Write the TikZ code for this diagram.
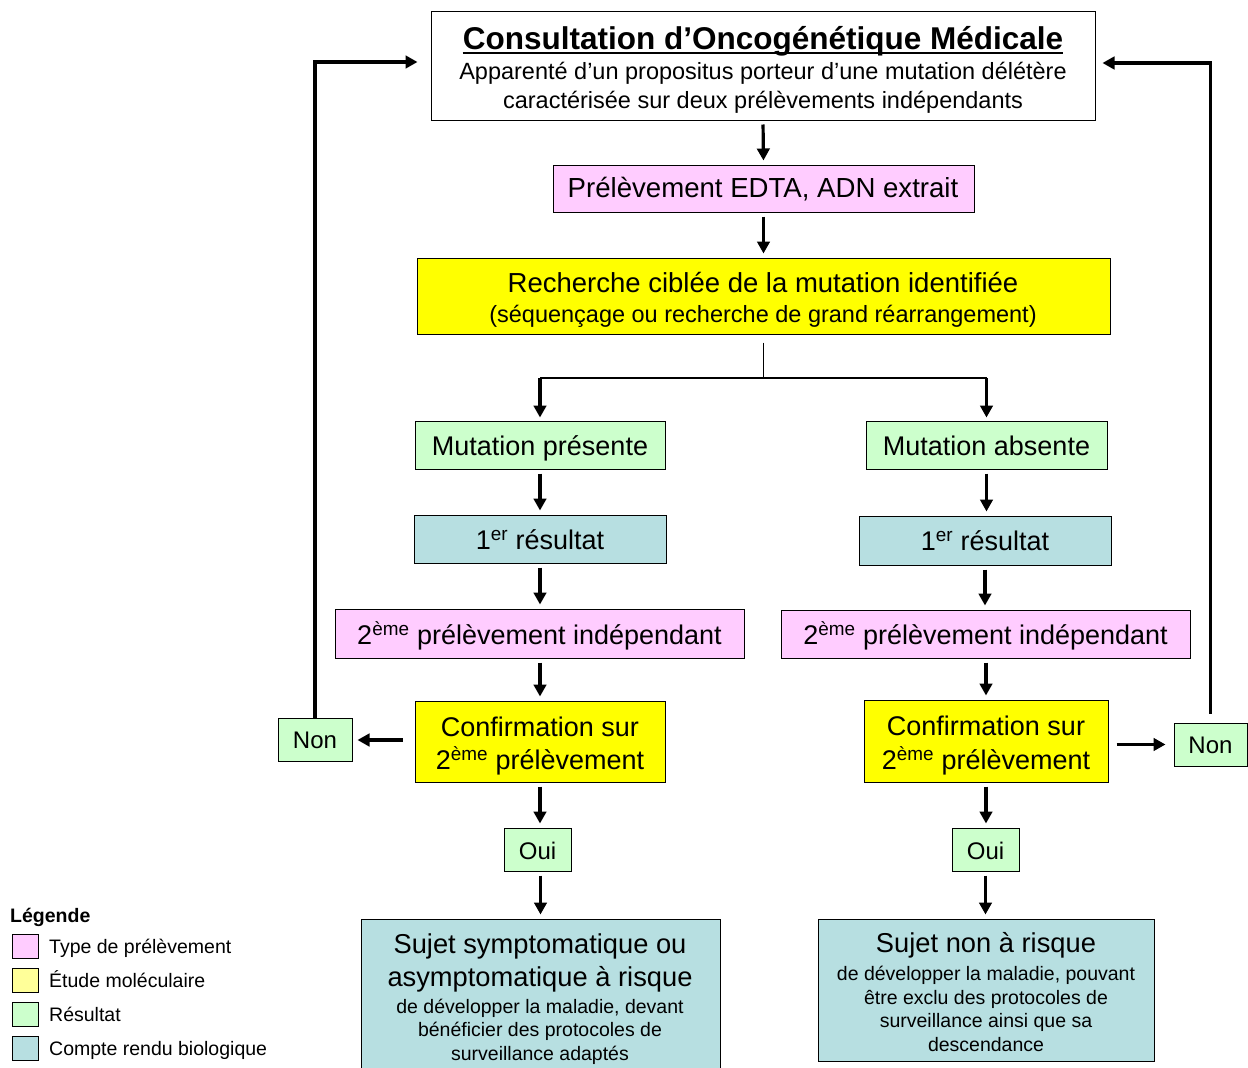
\documentclass[tikz,border=0pt]{standalone}
\usepackage{fontspec}
\setmainfont{Liberation Sans}
\usetikzlibrary{arrows.meta}
\definecolor{pinkc}{HTML}{FFCCFF}
\definecolor{yellowc}{HTML}{FFFF00}
\definecolor{lyellowc}{HTML}{FFFF99}
\definecolor{greenc}{HTML}{CCFFCC}
\definecolor{bluec}{HTML}{B7DFE1}
\newcommand{\fs}[1]{\fontsize{#1}{#1}\selectfont}
\begin{document}
\begin{tikzpicture}[x=1pt,y=-1pt,
  box/.style={draw=black, line width=1pt, inner sep=0pt},
  txt/.style={inner sep=0pt, anchor=base},
  ltxt/.style={inner sep=0pt, anchor=base west},
  arr/.style={line width=3.2pt, -{Triangle[length=12pt,width=12.5pt]}},
  thinl/.style={line width=1.5pt},
  midl/.style={line width=2.2pt}
]
\useasboundingbox (0,0) rectangle (1248,1068);
\fill[white] (0,0) rectangle (1248,1068);

% boxes
\node[box, fill=white, minimum width=664pt, minimum height=109pt] (top) at (763,65.5) {};
\node[box, fill=pinkc, minimum width=421pt, minimum height=47pt] (edta) at (763.5,188.5) {};
\node[box, fill=yellowc, minimum width=693pt, minimum height=76pt] (rech) at (763.5,296) {};
\node[box, fill=greenc, minimum width=250pt, minimum height=48pt] (mp) at (540,445) {};
\node[box, fill=greenc, minimum width=241pt, minimum height=48pt] (ma) at (986.5,445) {};
\node[box, fill=bluec, minimum width=252pt, minimum height=48pt] (r1l) at (540,539) {};
\node[box, fill=bluec, minimum width=252pt, minimum height=49pt] (r1r) at (985,540.5) {};
\node[box, fill=pinkc, minimum width=409pt, minimum height=49pt] (p2l) at (539.5,633.5) {};
\node[box, fill=pinkc, minimum width=409pt, minimum height=48pt] (p2r) at (985.5,634) {};
\node[box, fill=yellowc, minimum width=250pt, minimum height=81pt] (cl) at (540,741.5) {};
\node[box, fill=yellowc, minimum width=244pt, minimum height=82pt] (cr) at (986,741) {};
\node[box, fill=greenc, minimum width=74pt, minimum height=43pt] (nl) at (315,740) {};
\node[box, fill=greenc, minimum width=73pt, minimum height=43pt] (nr) at (1210.5,744.5) {};
\node[box, fill=greenc, minimum width=67pt, minimum height=43pt] (ol) at (537.5,849.5) {};
\node[box, fill=greenc, minimum width=67pt, minimum height=43pt] (or) at (985.5,849.5) {};
\node[box, fill=bluec, minimum width=359pt, minimum height=155pt] (bl) at (540.5,996.5) {};
\node[box, fill=bluec, minimum width=336pt, minimum height=142pt] (br) at (986,990) {};

% texts
\node[txt] (t1) at (763,49) {\fs{31.5}\bfseries Consultation d’Oncogénétique Médicale};
\draw[line width=1.8pt] ([yshift=-4pt]t1.base west) -- ([yshift=-4pt]t1.base east);
\node[txt] (t2) at (763,79.4) {\fs{23.5}Apparenté d’un propositus porteur d’une mutation délétère};
\node[txt] (t3) at (763,108.4) {\fs{23.5}caractérisée sur deux prélèvements indépendants};
\node[txt] (t4) at (763,197.7) {\fs{27.6}Prélèvement EDTA, ADN extrait};
\node[txt] (t5) at (763,292.7) {\fs{27.5}Recherche ciblée de la mutation identifiée};
\node[txt] (t6) at (763,322.4) {\fs{23.5}(séquençage ou recherche de grand réarrangement)};
\node[txt] (t7) at (540,455.7) {\fs{27}Mutation présente};
\node[txt] (t8) at (986.5,455.7) {\fs{27}Mutation absente};
\node[txt] (t9) at (540,549.7) {\fs{27}1\textsuperscript{er} résultat};
\node[txt] (t10) at (985,550.7) {\fs{27}1\textsuperscript{er} résultat};
\node[txt] (t11) at (539.5,644.7) {\fs{27}2\textsuperscript{ème} prélèvement indépendant};
\node[txt] (t12) at (985.5,644.7) {\fs{27}2\textsuperscript{ème} prélèvement indépendant};
\node[txt] (t13) at (540,736.7) {\fs{27}Confirmation sur};
\node[txt] (t14) at (540,769.7) {\fs{27}2\textsuperscript{ème} prélèvement};
\node[txt] (t15) at (986,735.7) {\fs{27}Confirmation sur};
\node[txt] (t16) at (986,769.7) {\fs{27}2\textsuperscript{ème} prélèvement};
\node[txt] (t17) at (315,748.6) {\fs{24}Non};
\node[txt] (t18) at (1210.5,753.6) {\fs{24}Non};
\node[txt] (t19) at (537.5,859.6) {\fs{24}Oui};
\node[txt] (t20) at (985.5,859.6) {\fs{24}Oui};
\node[txt] (t21) at (540,953.7) {\fs{27.3}Sujet symptomatique ou};
\node[txt] (t22) at (540,986.7) {\fs{27.3}asymptomatique à risque};
\node[txt] (t23) at (540,1013) {\fs{19.5}de développer la maladie, devant};
\node[txt] (t24) at (540,1036) {\fs{19.5}bénéficier des protocoles de};
\node[txt] (t25) at (540,1060) {\fs{19.5}surveillance adaptés};
\node[txt] (t26) at (986,952.7) {\fs{27.3}Sujet non à risque};
\node[txt] (t27) at (986,980) {\fs{19.5}de développer la maladie, pouvant};
\node[txt] (t28) at (986,1004) {\fs{19.5}être exclu des protocoles de};
\node[txt] (t29) at (986,1027) {\fs{19.5}surveillance ainsi que sa};
\node[txt] (t30) at (986,1051) {\fs{19.5}descendance};

% legend
\node[ltxt] (lg) at (10,922) {\fs{19.5}\bfseries Légende};
\node[box, fill=pinkc, minimum width=26pt, minimum height=24pt] (lg1) at (25,946) {};
\node[box, fill=lyellowc, minimum width=26pt, minimum height=24pt] (lg2) at (25,980) {};
\node[box, fill=greenc, minimum width=26pt, minimum height=24pt] (lg3) at (25,1014) {};
\node[box, fill=bluec, minimum width=26pt, minimum height=24pt] (lg4) at (25,1048) {};
\node[ltxt] (lt1) at (49,953) {\fs{19.5}Type de prélèvement};
\node[ltxt] (lt2) at (49,987) {\fs{19.5}Étude moléculaire};
\node[ltxt] (lt3) at (49,1021) {\fs{19.5}Résultat};
\node[ltxt] (lt4) at (49,1055) {\fs{19.5}Compte rendu biologique};

% connectors
\coordinate (split) at (763.5,378);
\draw[arr, shorten <=4pt, shorten >=4pt] (top.south) -- (edta.north);
\draw[arr, shorten <=4pt, shorten >=4pt] (edta.south) -- (rech.north);
\draw[thinl, shorten <=8pt] (rech.south) -- (split);
\draw[midl] (mp.north |- split) -- (ma.north |- split);
\draw[arr, shorten >=3pt] (mp.north |- split) -- (mp.north);
\draw[arr, shorten >=3pt] (ma.north |- split) -- (ma.north);
\draw[arr, shorten <=4pt, shorten >=4pt] (mp.south) -- (r1l.north);
\draw[arr, shorten <=4pt, shorten >=4pt] (ma.south) -- (ma.south |- r1r.north);
\draw[arr, shorten <=4pt, shorten >=4pt] (r1l.south) -- (r1l.south |- p2l.north);
\draw[arr, shorten <=4pt, shorten >=4pt] (r1r.south) -- (r1r.south |- p2r.north);
\draw[arr, shorten <=4pt, shorten >=4pt] (p2l.south -| cl.north) -- (cl.north);
\draw[arr, shorten <=4pt, shorten >=4pt] (p2r.south -| cr.north) -- (cr.north);
\draw[arr, shorten <=4pt, shorten >=4pt] (cl.south) -- (cl.south |- ol.north);
\draw[arr, shorten <=4pt, shorten >=4pt] (cr.south) -- (cr.south |- or.north);
\draw[arr, shorten <=4pt, shorten >=4pt] (ol.south -| bl.north) -- (bl.north);
\draw[arr, shorten <=4pt, shorten >=4pt] (or.south) -- (or.south |- br.north);
\draw[arr, shorten <=12pt, shorten >=5pt] (cl.west |- nl.east) -- (nl.east);
\draw[arr, shorten <=8pt, shorten >=8pt] (cr.east |- nr.west) -- (nr.west);
\draw[arr, shorten >=13pt] (nl.north) |- ([yshift=3.5pt]top.west);
\draw[arr, shorten <=9pt, shorten >=7pt] (nr.north) |- ([yshift=2.5pt]top.east);
\end{tikzpicture}
\end{document}
